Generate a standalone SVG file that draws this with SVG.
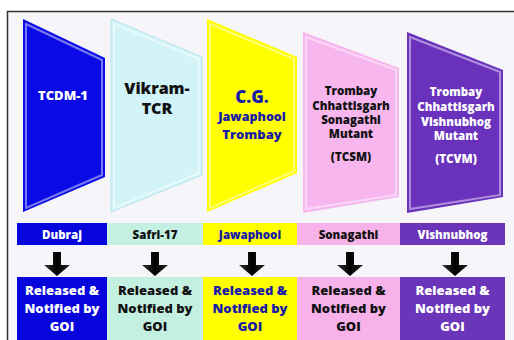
<svg xmlns="http://www.w3.org/2000/svg" width="514" height="340" viewBox="0 0 514 340">
<style>
text{font-family:"Open Sans","DejaVu Sans",sans-serif;font-weight:800;text-anchor:middle}
.w{fill:#ffffff}.k{fill:#111111}.b{fill:#1a1aa8}
.t{font-size:11.5px}.s{font-size:11.5px}.r{font-size:13px}
.gl{fill:none;stroke:#ffffff;stroke-opacity:0.45;stroke-width:2}
</style>
<defs>
<linearGradient id="ar" x1="0" y1="0" x2="1" y2="0">
<stop offset="0" stop-color="#333"/><stop offset="0.5" stop-color="#000"/><stop offset="1" stop-color="#222"/>
</linearGradient>
<path id="arrow" d="M-4,0 H4 V13 H13 L0,24 L-13,13 H-4 Z" fill="url(#ar)"/>
</defs>
<rect x="0" y="0" width="514" height="340" fill="#ffffff"/>
<rect x="7.5" y="11.5" width="520" height="340" fill="#f5f5fa" stroke="#333" stroke-width="1.5"/>
<g id="node-tcdm1">
<polygon points="23,19 105,58 105,177 23,212" fill="#0a0ae6"/>
<polygon points="26,24 102,60 102,175 26,208" class="gl"/>
<text class="w" x="63" y="100" style="font-size:13px">TCDM-1</text>
</g>
<g id="node-vikram">
<polygon points="111,19 202,57 202,175 111,212" fill="#d2f4f8" stroke="#b8e4ea" stroke-width="1"/>
<polygon points="114,24 199,59 199,173 114,208" class="gl"/>
<text class="k" x="157" y="94" style="font-size:16px">Vikram-</text>
<text class="k" x="157" y="114" style="font-size:16px">TCR</text>
</g>
<g id="node-cg">
<polygon points="207,19 297,57 297,173 207,212" fill="#ffff00"/>
<polygon points="210,24 294,59 294,171 210,208" class="gl"/>
<text class="b" x="252" y="103" style="font-size:17px">C.G.</text>
<text class="b" x="252" y="120.5" style="font-size:12.5px">Jawaphool</text>
<text class="b" x="252" y="138.5" style="font-size:13px">Trombay</text>
</g>
<g id="node-tcsm">
<polygon points="303,32 399,68 399,197 303,213" fill="#f8b6ee"/>
<polygon points="306,37 396,70 396,195 306,209" class="gl"/>
<text class="k t" x="351" y="95">Trombay</text>
<text class="k t" x="351" y="109.5">Chhattisgarh</text>
<text class="k t" x="351" y="123.5">Sonagathi</text>
<text class="k t" x="351" y="138">Mutant</text>
<text class="k t" x="351" y="161">(TCSM)</text>
</g>
<g id="node-tcvm">
<polygon points="407,32 503,70 503,197 407,213" fill="#6a32bc"/>
<polygon points="410,37 500,72 500,195 410,209" class="gl"/>
<text class="w t" x="456" y="96">Trombay</text>
<text class="w t" x="456" y="111">Chhattisgarh</text>
<text class="w t" x="456" y="125.5">Vishnubhog</text>
<text class="w t" x="456" y="140">Mutant</text>
<text class="w t" x="456" y="163">(TCVM)</text>
</g>
<g id="node-bands">
<rect x="17" y="223" width="90" height="22" fill="#0505dc"/>
<rect x="107" y="223" width="96" height="22" fill="#c4f0e2"/>
<rect x="203" y="223" width="94" height="22" fill="#ffff00"/>
<rect x="297" y="223" width="103" height="22" fill="#f8b2ea"/>
<rect x="400" y="223" width="105" height="22" fill="#6a35b8"/>
<text class="w s" x="62" y="238.5">Dubraj</text>
<text class="k s" x="155" y="238.5">Safri-17</text>
<text class="b s" x="250" y="238.5">Jawaphool</text>
<text class="k s" x="348.5" y="238.5">Sonagathi</text>
<text class="w s" x="452.5" y="238.5">Vishnubhog</text>
</g>
<g id="connectors">
<use href="#arrow" x="57" y="252"/>
<use href="#arrow" x="155" y="252"/>
<use href="#arrow" x="252" y="252"/>
<use href="#arrow" x="350" y="252"/>
<use href="#arrow" x="455" y="252"/>
</g>
<g id="node-released">
<rect x="17" y="277" width="90" height="70" fill="#0505dc"/>
<rect x="107" y="277" width="96" height="70" fill="#c4f0e2"/>
<rect x="203" y="277" width="94" height="70" fill="#ffff00"/>
<rect x="297" y="277" width="103" height="70" fill="#f8b2ea"/>
<rect x="400" y="277" width="105" height="70" fill="#6a35b8"/>
<g class="w r"><text x="62" y="295">Released &amp;</text><text x="62" y="313">Notified by</text><text x="62" y="331">GOI</text></g>
<g class="k r"><text x="155" y="295">Released &amp;</text><text x="155" y="313">Notified by</text><text x="155" y="331">GOI</text></g>
<g class="b r"><text x="250" y="295">Released &amp;</text><text x="250" y="313">Notified by</text><text x="250" y="331">GOI</text></g>
<g class="k r"><text x="348.5" y="295">Released &amp;</text><text x="348.5" y="313">Notified by</text><text x="348.5" y="331">GOI</text></g>
<g class="w r"><text x="452.5" y="295">Released &amp;</text><text x="452.5" y="313">Notified by</text><text x="452.5" y="331">GOI</text></g>
</g>
</svg>
